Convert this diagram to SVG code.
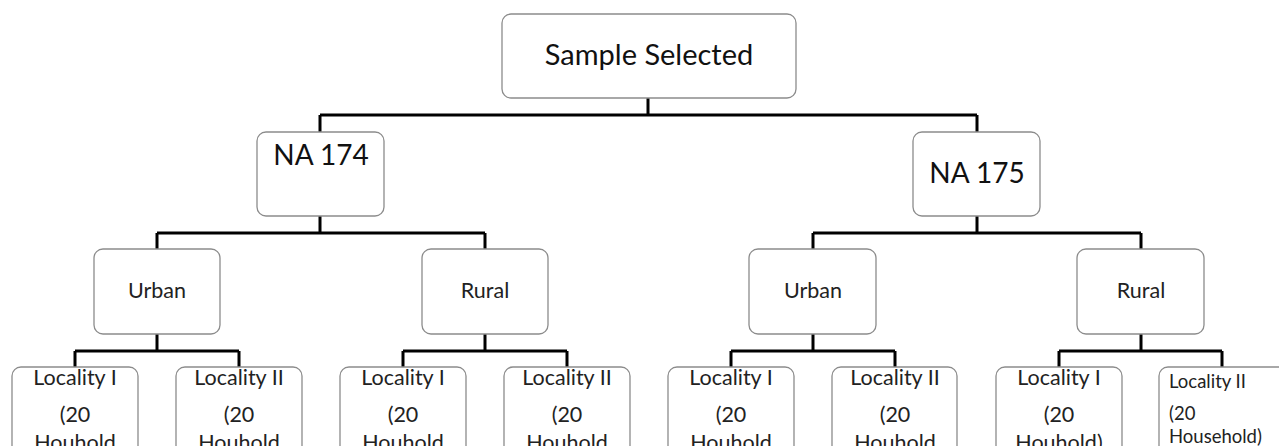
<svg xmlns="http://www.w3.org/2000/svg" width="1279" height="446" viewBox="0 0 1279 446">
  <style>
    .box { fill: #ffffff; stroke: #8c8c8c; stroke-width: 1.3; }
    .conn { fill: none; stroke: #000000; stroke-width: 3; }
    text { font-family: Lato, "Liberation Sans", sans-serif; fill: #111111; text-anchor: middle; }
    .big { font-size: 29px; }
    .na { font-size: 28px; }
    .mid { font-size: 21.5px; fill: #222222; }
    .loc { font-size: 21.5px; fill: #222222; }
    .small { font-size: 18.5px; fill: #222222; text-anchor: start; }
  </style>
  <rect width="1279" height="446" fill="#ffffff"/>

  <!-- tree connectors -->
  <g id="connectors">
    <path class="conn" d="M648 98 V115 M320 115 H977 M320 115 V132 M977 115 V132"/>
    <path class="conn" d="M320 216 V233 M157 233 H485 M157 233 V249 M485 233 V249"/>
    <path class="conn" d="M977 216 V233 M813 233 H1141 M813 233 V249 M1141 233 V249"/>
    <path class="conn" d="M157 334 V351 M75 351 H239 M75 351 V367 M239 351 V367"/>
    <path class="conn" d="M485 334 V351 M403 351 H567 M403 351 V367 M567 351 V367"/>
    <path class="conn" d="M813 334 V351 M731 351 H895 M731 351 V367 M895 351 V367"/>
    <path class="conn" d="M1141 334 V351 M1059 351 H1222 M1059 351 V367 M1222 351 V367"/>
  </g>

  <g id="sample-selected">
    <rect class="box" x="502" y="14" width="294" height="84" rx="9"/>
    <text class="big" x="649" y="65">Sample Selected</text>
  </g>

  <g id="na-174">
    <rect class="box" x="257" y="132" width="127" height="84" rx="9"/>
    <text class="na" x="321" y="165">NA 174</text>
  </g>
  <g id="na-175">
    <rect class="box" x="913" y="132" width="127" height="84" rx="9"/>
    <text class="na" x="977" y="183">NA 175</text>
  </g>

  <g id="urban-174">
    <rect class="box" x="94" y="249" width="126" height="85" rx="9"/>
    <text class="mid" x="157" y="298">Urban</text>
  </g>
  <g id="rural-174">
    <rect class="box" x="422" y="249" width="126" height="85" rx="9"/>
    <text class="mid" x="485" y="298">Rural</text>
  </g>
  <g id="urban-175">
    <rect class="box" x="749" y="249" width="127" height="85" rx="9"/>
    <text class="mid" x="813" y="298">Urban</text>
  </g>
  <g id="rural-175">
    <rect class="box" x="1077" y="249" width="127" height="85" rx="9"/>
    <text class="mid" x="1141" y="298">Rural</text>
  </g>

  <g id="loc-174-urban-1">
    <rect class="box" x="12" y="367" width="126" height="100" rx="9"/>
    <text class="loc" x="75" y="385">Locality I</text>
    <text class="loc" x="75" y="422">(20</text>
    <text class="loc" x="75" y="450">Houhold</text>
  </g>
  <g id="loc-174-urban-2">
    <rect class="box" x="176" y="367" width="126" height="100" rx="9"/>
    <text class="loc" x="239" y="385">Locality II</text>
    <text class="loc" x="239" y="422">(20</text>
    <text class="loc" x="239" y="450">Houhold</text>
  </g>
  <g id="loc-174-rural-1">
    <rect class="box" x="340" y="367" width="126" height="100" rx="9"/>
    <text class="loc" x="403" y="385">Locality I</text>
    <text class="loc" x="403" y="422">(20</text>
    <text class="loc" x="403" y="450">Houhold</text>
  </g>
  <g id="loc-174-rural-2">
    <rect class="box" x="504" y="367" width="126" height="100" rx="9"/>
    <text class="loc" x="567" y="385">Locality II</text>
    <text class="loc" x="567" y="422">(20</text>
    <text class="loc" x="567" y="450">Houhold</text>
  </g>
  <g id="loc-175-urban-1">
    <rect class="box" x="668" y="367" width="126" height="100" rx="9"/>
    <text class="loc" x="731" y="385">Locality I</text>
    <text class="loc" x="731" y="422">(20</text>
    <text class="loc" x="731" y="450">Houhold</text>
  </g>
  <g id="loc-175-urban-2">
    <rect class="box" x="832" y="367" width="125" height="100" rx="9"/>
    <text class="loc" x="895" y="385">Locality II</text>
    <text class="loc" x="895" y="422">(20</text>
    <text class="loc" x="895" y="450">Houhold</text>
  </g>
  <g id="loc-175-rural-1">
    <rect class="box" x="996" y="367" width="126" height="100" rx="9"/>
    <text class="loc" x="1059" y="385">Locality I</text>
    <text class="loc" x="1059" y="422">(20</text>
    <text class="loc" x="1059" y="450">Houhold)</text>
  </g>
  <g id="loc-175-rural-2">
    <rect class="box" x="1159" y="367" width="130" height="100" rx="9"/>
    <text class="small" x="1169" y="388">Locality II</text>
    <text class="small" x="1169" y="420">(20</text>
    <text class="small" x="1169" y="443">Household)</text>
  </g>
</svg>
